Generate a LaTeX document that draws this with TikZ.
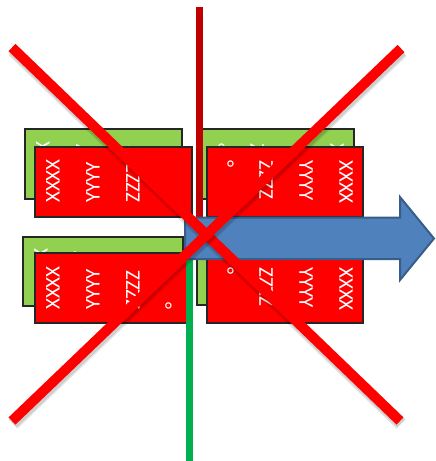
\documentclass[tikz,border=0pt]{standalone}
\usepackage{fontspec}
\newfontfamily\lblfont{Carlito}
\usetikzlibrary{calc}
\definecolor{rfill}{HTML}{FF0000}
\definecolor{gfill}{HTML}{92D050}
\definecolor{vred}{HTML}{C00000}
\definecolor{vgreen}{HTML}{00B050}
\definecolor{afill}{HTML}{4F81BD}
\definecolor{adraw}{HTML}{385D8A}
\begin{document}
\begin{tikzpicture}[x=1pt,y=-1pt,
  box/.style={draw=black!85, line width=1.3pt, anchor=north west, inner sep=0pt, outer sep=0pt},
  gbox/.style={box, fill=gfill},
  rbox/.style={box, fill=rfill},
  lbl/.style={text=white, font=\lblfont\fontsize{21}{40}\selectfont, align=left, inner sep=0pt, anchor=north west},
  lblL/.style={lbl, rotate=90},
  lblR/.style={lbl, rotate=-90},
  vline/.style={line width=7pt},
  cross/.style={draw=rfill, line width=10pt},
  crossshadow/.style={draw=black, opacity=0.10, line width=13pt},
  arrowshape/.style={fill=afill, draw=adraw, line width=2pt, line join=miter}
]
\useasboundingbox (0,0) rectangle (436,461);

% top-left pair
\node[gbox, minimum width=157pt, minimum height=70pt] (g1) at (25,129) {};
\node[lblL] (tg1) at ($(g1.south west)+(11,-14)$) {XXXX\\YYYY\\ZZZZ\\°};
\node[rbox, minimum width=157pt, minimum height=70pt] (r1) at (35,147) {};
\node[lblL] (tr1) at ($(r1.south west)+(11,-14)$) {XXXX\\YYYY\\ZZZZ\\°};

% top-right pair
\node[gbox, minimum width=152pt, minimum height=70pt] (g2) at (202,129) {};
\node[lblR] (tg2) at ($(g2.north east)+(-10,14)$) {XXXX\\YYYY\\ZZZZ\\°};
\node[rbox, minimum width=156pt, minimum height=70pt] (r2) at (207,147) {};
\node[lblR] (tr2) at ($(r2.north east)+(-10,13)$) {XXXX\\YYYY\\ZZZZ\\°};

% bottom-left pair
\node[gbox, minimum width=160pt, minimum height=69pt] (g3) at (23,237) {};
\node[lblL] (tg3) at ($(g3.south west)+(11,-14)$) {XXXX\\YYYY\\ZZZZ\\°};
\node[rbox, minimum width=152pt, minimum height=70pt] (r3) at (35,253) {};
\node[lblL] (tr3) at ($(r3.south west)+(11,-13)$) {XXXX\\YYYY\\ZZZZ\\°};

% bottom-right pair
\node[gbox, minimum width=156pt, minimum height=69pt] (g4) at (197,236) {};
\node[lblR] (tg4) at ($(g4.north east)+(-10,14)$) {XXXX\\YYYY\\ZZZZ\\°};
\node[rbox, minimum width=156pt, minimum height=70pt] (r4) at (207,253) {};
\node[lblR] (tr4) at ($(r4.north east)+(-10,14)$) {XXXX\\YYYY\\ZZZZ\\°};

% vertical lines
\coordinate (vt) at (199,7);
\coordinate (vb) at (199,230);
\coordinate (gt) at (189.5,245);
\coordinate (gb) at (189.5,461);
\draw[vline, draw=vred] (vt) -- (vb);
\draw[vline, draw=vgreen] (gt) -- (gb);

% block arrow
\path[arrowshape] (185,217.5) -- (400,217.5) -- (400,197) -- (434,238.5)
  -- (400,280) -- (400,259) -- (185,259) -- cycle;

% red cross
\coordinate (c1) at (12,47.5);
\coordinate (c2) at (400,421);
\coordinate (c3) at (401,48.5);
\coordinate (c4) at (12,421);
\draw[crossshadow] ($(c1)+(1,3)$) -- ($(c2)+(1,3)$);
\draw[crossshadow, line width=11pt] ($(c1)+(1,2.5)$) -- ($(c2)+(1,2.5)$);
\draw[cross] (c1) -- (c2);
\draw[crossshadow] ($(c3)+(1,3)$) -- ($(c4)+(1,3)$);
\draw[crossshadow, line width=11pt] ($(c3)+(1,2.5)$) -- ($(c4)+(1,2.5)$);
\draw[cross] (c3) -- (c4);
\end{tikzpicture}
\end{document}
